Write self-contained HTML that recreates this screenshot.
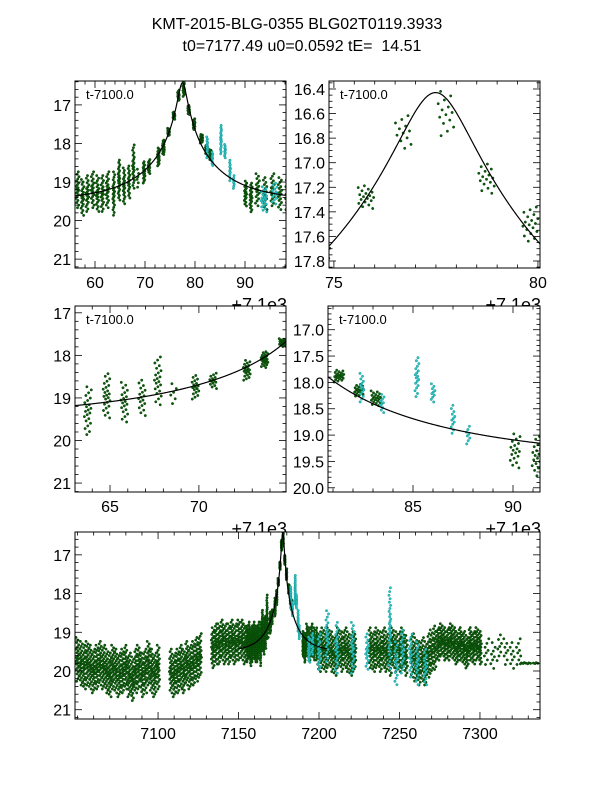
<!DOCTYPE html>
<html><head><meta charset="utf-8"><style>
body{margin:0;background:#fff;}
svg{display:block;font-family:"Liberation Sans",sans-serif;}
</style></head><body>
<svg id="fig" width="600" height="800" viewBox="0 0 600 800">
<rect width="600" height="800" fill="#fff"/>
<text x="297" y="29" text-anchor="middle" font-size="16">KMT-2015-BLG-0355 BLG02T0119.3933</text>
<text x="302" y="51" text-anchor="middle" font-size="16" xml:space="preserve">t0=7177.49 u0=0.0592 tE=  14.51</text>
</svg>
<script>
// event model parameters
const t0 = 7177.49, u0 = 0.0592, tE = 14.51, baseMag = 19.5;

// green observation groups (time, centre mag, half spread, half width in days, count)
const greenT = [7050,7052,7054,7056,7058,7060,7062,7064,7066,7068,7070,7072,7074,7076,7078,7080,7082,7084,7086,7088,7090,7092,7094,7096,7098,7100,
 7108,7110,7112,7114,7116,7118,7120,7122,7124,7126,
 7134,7136,7138,7140,7142,7144,7146,7148,7150,7152,7154,
 7155.5,7156.5,7157.5,7158.5,7159.5,7160.5,7161.5,7162.5,
 7163.76,7164.8,7165.8,7166.8,7167.7,7168.6,7169.8,7170.8,7172.7,7173.7,7174.7,
 7175.78,7176.7,7177.75,7178.75,7179.8,
 7181.3,7182.3,7183.15,7190.1,7191.2,
 7192.5,7194,7195.5,7197,7198.5,
 7200,7202,7204,7206,7208,7210,7212,7214,7216,7218,7220,7222,
 7232,7234,7236,7238,7240,7242,7244,7246,7248,7250,7252,7254,
 7258,7260,7262,7264,7266,7268,7270,7272,
 7274,7276,7278,7280,7282,7284,7286,7288,7290,7292,7294,7296,7298,7300,
 7304,7308,7312,7316,7320,7324,7331];
const greenMag = [19.7,19.8,19.9,19.8,19.9,20.0,19.9,19.8,19.9,20.0,20.1,19.9,20.0,20.1,20.0,19.9,20.1,20.2,20.0,19.9,20.1,20.0,19.8,20.0,20.1,19.9,
 20.0,20.1,20.0,19.9,20.0,19.8,19.9,19.8,19.7,19.6,
 19.4,19.3,19.3,19.2,19.3,19.3,19.2,19.3,19.2,19.2,19.3,
 19.3,19.2,19.4,19.3,19.2,19.3,19.3,19.2,
 19.3,18.95,19.1,19.0,18.6,18.9,18.75,18.6,18.35,18.1,17.7,
 17.28,16.75,16.6,17.13,17.5,
 17.88,18.15,18.3,19.3,19.4,
 19.2,19.3,19.2,19.3,19.3,
 19.5,19.4,19.5,19.4,19.5,19.6,19.4,19.5,19.4,19.5,19.6,19.5,
 19.4,19.5,19.4,19.5,19.4,19.5,19.6,19.4,19.5,19.5,19.4,19.6,
 19.6,19.7,19.8,19.7,19.8,19.6,19.5,19.4,
 19.3,19.2,19.3,19.3,19.2,19.3,19.4,19.3,19.4,19.5,19.3,19.4,19.3,19.4,
 19.5,19.6,19.4,19.5,19.6,19.5,19.8];
const greenSpread = [].concat(Array(26).fill(0.6),Array(10).fill(0.6),Array(11).fill(0.55),Array(8).fill(0.5),
 [0.6,0.55,0.5,0.45,0.6,0.3,0.3,0.2,0.25,0.2,0.1],[0.1,0.15,0.2,0.13,0.15],[0.12,0.12,0.15,0.35,0.4],
 Array(5).fill(0.45),Array(12).fill(0.55),Array(12).fill(0.55),Array(8).fill(0.6),Array(14).fill(0.45),[0.4,0.4,0.4,0.4,0.4,0.4,0.02]);
const greenWidth = [].concat(Array(47).fill(1),Array(8).fill(0.3),Array(11).fill(0.2),Array(5).fill(0.2),Array(5).fill(0.25),
 Array(5).fill(0.4),Array(46).fill(1),[1.5,1.5,1.5,1.5,1.5,1.5,6]);
const greenCount = [].concat(Array(47).fill(24),Array(8).fill(20),[22,24,20,18,22,6,18,14,20,22,18],[18,12,14,16,18],[20,18,20,18,20],
 Array(5).fill(18),Array(46).fill(22),[8,8,8,8,8,8,12]);

// cyan observation groups
const cyanT = [7182.45,7183.45,7185.2,7186.0,7187.0,7187.75,7193.8,7196,7200,7205,7211,7221,7230,7244,7248,7252,7257,7261,7266];
const cyanMag = [18.1,18.4,17.9,18.2,18.7,19.0,19.45,19.3,19.5,19.1,19.4,19.4,19.5,18.9,19.8,19.5,19.6,19.8,19.9];
const cyanSpread = [0.3,0.2,0.4,0.2,0.3,0.2,0.35,0.3,0.5,0.7,0.7,0.7,0.5,1.1,0.6,0.6,0.6,0.6,0.5];
const cyanWidth = [0.1,0.1,0.1,0.1,0.1,0.1,0.6,0.6,1,1,1,1,1,0.6,1,1,1,1,1];
const cyanCount = [14,10,18,10,12,8,20,14,18,22,22,22,16,30,18,18,18,18,16];

// panels: pixel boxes and data ranges
const panels = [
 {name:'panel-full-event', x0:75,x1:286,y0:81,y1:268, tmin:7156,tmax:7198.2, mtop:16.38,mbot:21.23,
  xt:[60,70,80,90], xoff:7100, xminor:2, yt:[17,18,19,20,21], yfmt:0, yminor:0.2, label:true, offset:true, ms:0, me:1e9},
 {name:'panel-peak', x0:329,x1:540,y0:81,y1:268, tmin:7174.88,tmax:7180.05, mtop:16.335,mbot:17.857,
  xt:[75,80], xoff:7100, xminor:0.5, yt:[16.4,16.6,16.8,17.0,17.2,17.4,17.6,17.8], yfmt:1, yminor:0.05, label:true, offset:true, ms:0, me:1e9},
 {name:'panel-rise', x0:75,x1:286,y0:306,y1:492, tmin:7163.03,tmax:7174.9, mtop:16.84,mbot:21.21,
  xt:[65,70], xoff:7100, xminor:1, yt:[17,18,19,20,21], yfmt:0, yminor:0.2, label:true, offset:true, ms:0, me:1e9},
 {name:'panel-fall', x0:328,x1:540,y0:306,y1:492, tmin:7180.75,tmax:7191.35, mtop:16.55,mbot:20.08,
  xt:[85,90], xoff:7100, xminor:1, yt:[17.0,17.5,18.0,18.5,19.0,19.5,20.0], yfmt:1, yminor:0.1, label:true, offset:true, ms:0, me:1e9},
 {name:'panel-season', x0:75,x1:540,y0:532,y1:719, tmin:7048.4,tmax:7337.3, mtop:16.41,mbot:21.24,
  xt:[7100,7150,7200,7250,7300], xoff:0, xminor:10, yt:[17,18,19,20,21], yfmt:0, yminor:0.2, label:false, offset:false, ms:7150, me:7205}
];

const NS='http://www.w3.org/2000/svg';
const svg=document.getElementById('fig');
function mk(tag,attrs,parent){const e=document.createElementNS(NS,tag);for(const k in attrs)e.setAttribute(k,attrs[k]);(parent||svg).appendChild(e);return e;}
function model(t){const tau=(t-t0)/tE;const u=Math.sqrt(u0*u0+tau*tau);const A=(u*u+2)/(u*Math.sqrt(u*u+4));return baseMag-2.5*Math.log10(A);}
function frac(v){return v-Math.floor(v);}

panels.forEach((p,pi)=>{
 const sx=t=>p.x0+(t-p.tmin)/(p.tmax-p.tmin)*(p.x1-p.x0);
 const sy=m=>p.y0+(m-p.mtop)/(p.mbot-p.mtop)*(p.y1-p.y0);
 const g=mk('g',{});
 
 
 const bg=mk('rect',{x:p.x0,y:p.y0,width:p.x1-p.x0,height:p.y1-p.y0,fill:'#fff'},g);
 
 
 const cp=mk('clipPath',{id:'clip'+pi},g);
 mk('rect',{x:p.x0,y:p.y0,width:p.x1-p.x0,height:p.y1-p.y0},cp);
 const dg=mk('g',{'clip-path':'url(#clip'+pi+')'},g);
 function drawGroups(T,M,S,W,N,fill,stroke,nm){
  const sg=mk('g',{fill:fill,stroke:stroke,'stroke-width':0.5},dg);
  
  
  for(let k=0;k<T.length;k++){
   if(T[k]+W[k]<p.tmin||T[k]-W[k]>p.tmax)continue;
   for(let i=0;i<N[k];i++){
    const fy=(i+0.5)/N[k];
    const fx=frac(i*0.618034+k*0.37);
    const t=T[k]+W[k]*(2*fx-1);
    const m=M[k]+S[k]*(2*fy-1)*(0.6+0.4*Math.abs(2*fy-1));
    const c=mk('circle',{cx:sx(t).toFixed(1),cy:sy(m).toFixed(1),r:1.2},sg);
    
    
   }
  }
 }
 drawGroups(greenT,greenMag,greenSpread,greenWidth,greenCount,'#0b5d0b','#064006','green-series');
 drawGroups(cyanT,cyanMag,cyanSpread,cyanWidth,cyanCount,'#2ec4c4','#119a9a','cyan-series');
 // model curve
 const a=Math.max(p.tmin,p.ms), b=Math.min(p.tmax,p.me);
 let d='';const steps=400;
 for(let i=0;i<=steps;i++){const t=a+(b-a)*i/steps;d+=(i?'L':'M')+sx(t).toFixed(2)+','+sy(model(t)).toFixed(2);}
 const ln=mk('path',{d:d,fill:'none',stroke:'#000','stroke-width':1.2},dg);
 
 
 // ticks
 const tk=mk('g',{stroke:'#000','stroke-width':0.8},g);
 
 
 const xmin0=Math.ceil((p.tmin-p.xoff)/p.xminor)*p.xminor;
 for(let v=xmin0;v<=p.tmax-p.xoff+1e-9;v+=p.xminor){const x=sx(v+p.xoff);const major=p.xt.some(q=>Math.abs(q-v)<1e-6);const L=major?7:3.5;
  mk('line',{x1:x,y1:p.y1,x2:x,y2:p.y1-L},tk);mk('line',{x1:x,y1:p.y0,x2:x,y2:p.y0+L},tk);}
 const ymin0=Math.ceil(p.mtop/p.yminor)*p.yminor;
 for(let v=ymin0;v<=p.mbot+1e-9;v+=p.yminor){const y=sy(v);const major=p.yt.some(q=>Math.abs(q-v)<1e-6);const L=major?7:3.5;
  mk('line',{x1:p.x0,y1:y,x2:p.x0+L,y2:y},tk);mk('line',{x1:p.x1,y1:y,x2:p.x1-L,y2:y},tk);}
 p.xt.forEach(v=>{const t=mk('text',{x:sx(v+p.xoff),y:p.y1+20,'text-anchor':'middle','font-size':16},g);t.textContent=v;
  });
 p.yt.forEach(v=>{const t=mk('text',{x:p.x0-4,y:sy(v)+6,'text-anchor':'end','font-size':16},g);t.textContent=v.toFixed(p.yfmt);
  });
 const fr=mk('rect',{x:p.x0,y:p.y0,width:p.x1-p.x0,height:p.y1-p.y0,fill:'none',stroke:'#000','stroke-width':1},g);
 
 
 if(p.label){const t=mk('text',{x:p.x0+11,y:p.y0+18,'font-size':13},g);t.textContent='t-7100.0';
  }
 if(p.offset){const t=mk('text',{x:p.x1+1,y:p.y1+43,'text-anchor':'end','font-size':18},g);t.textContent='+7.1e3';
  }
});
</script>
</body></html>
